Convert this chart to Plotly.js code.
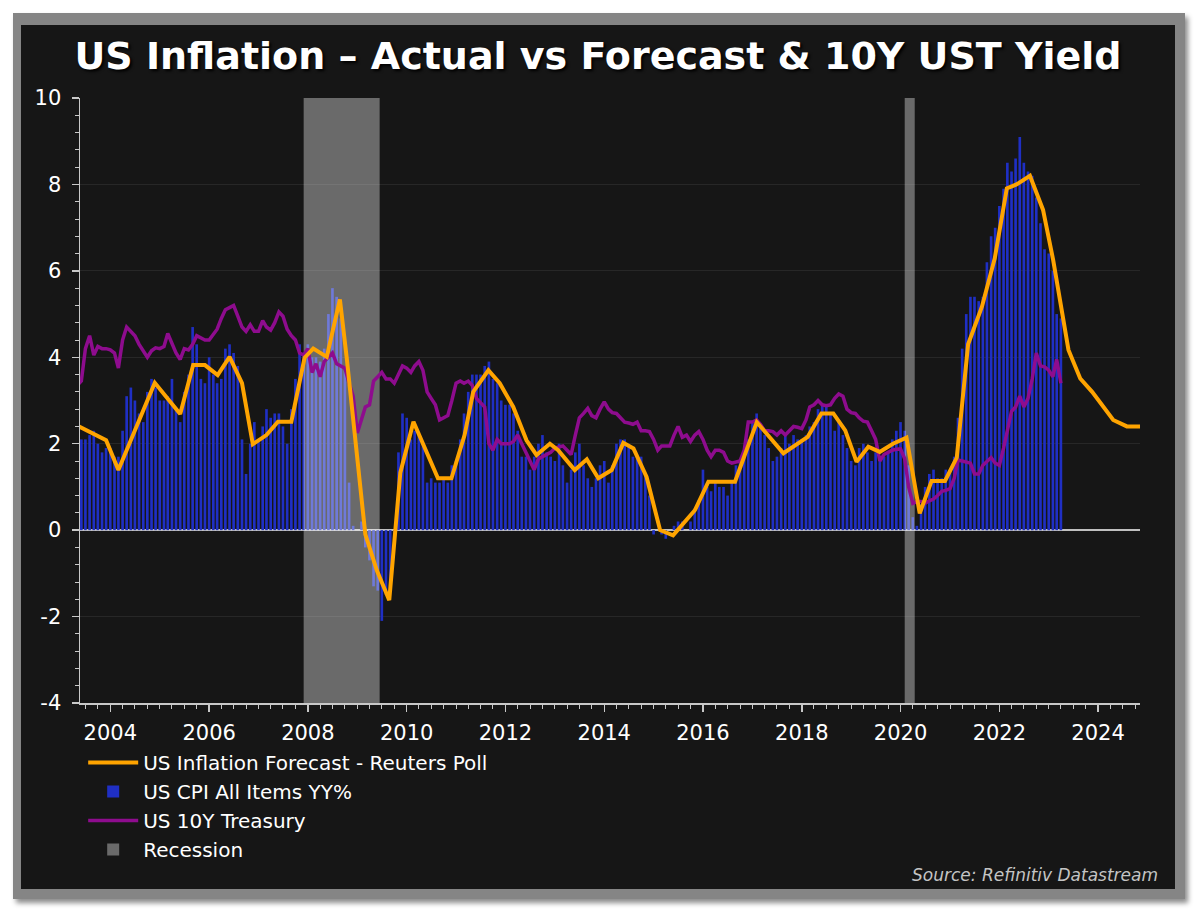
<!DOCTYPE html>
<html>
<head>
<meta charset="utf-8">
<script src="https://cdn.plot.ly/plotly-3.0.1.min.js"></script>
<style>
  html, body { margin: 0; padding: 0; background: #ffffff; width: 1200px; height: 914px; overflow: hidden; }
  #frame { position: absolute; left: 13px; top: 13px; width: 1172px; height: 886px; background: #858585;
           box-shadow: 3px 4px 5px rgba(0,0,0,0.45); }
  #chart { position: absolute; left: 21px; top: 25px; width: 1154px; height: 864px; }
</style>
</head>
<body>
<div id="frame"></div>
<div id="chart"></div>
<script>
// ---- DATA ----
// Monthly series start month (CPI and 10Y), May 2003 .. Apr 2023
const seriesStart = "2003-05";

// US CPI All Items YY% (monthly)
const cpi = [
  2.1, 2.1, 2.1, 2.2, 2.3, 2.0, 1.8, 1.9,
  1.9, 1.7, 1.7, 2.3, 3.1, 3.3, 3.0, 2.7, 2.5, 3.2, 3.5, 3.3,
  3.0, 3.0, 3.1, 3.5, 2.8, 2.5, 3.2, 3.6, 4.7, 4.3, 3.5, 3.4,
  4.0, 3.6, 3.4, 3.5, 4.2, 4.3, 4.1, 3.8, 2.1, 1.3, 2.0, 2.5,
  2.1, 2.4, 2.8, 2.6, 2.7, 2.7, 2.4, 2.0, 2.8, 3.5, 4.3, 4.1,
  4.3, 4.0, 4.0, 3.9, 4.2, 5.0, 5.6, 5.4, 4.9, 3.7, 1.1, 0.1,
  0.0, 0.2, -0.4, -0.7, -1.3, -1.4, -2.1, -1.5, -1.3, -0.2, 1.8, 2.7,
  2.6, 2.1, 2.3, 2.2, 2.0, 1.1, 1.2, 1.1, 1.1, 1.2, 1.1, 1.5,
  1.6, 2.1, 2.7, 3.2, 3.6, 3.6, 3.6, 3.8, 3.9, 3.5, 3.4, 3.0,
  2.9, 2.9, 2.7, 2.3, 1.7, 1.7, 1.4, 1.7, 2.0, 2.2, 1.8, 1.7,
  1.6, 2.0, 1.5, 1.1, 1.4, 1.8, 2.0, 1.5, 1.2, 1.0, 1.2, 1.5,
  1.6, 1.1, 1.5, 2.0, 2.1, 2.1, 2.0, 1.7, 1.7, 1.7, 1.3, 0.8,
  -0.1, 0.0, -0.1, -0.2, 0.0, 0.1, 0.2, 0.2, 0.0, 0.2, 0.5, 0.7,
  1.4, 1.0, 0.9, 1.1, 1.0, 1.0, 0.8, 1.1, 1.5, 1.6, 1.7, 2.1,
  2.5, 2.7, 2.4, 2.2, 1.9, 1.6, 1.7, 1.9, 2.2, 2.0, 2.2, 2.1,
  2.1, 2.2, 2.4, 2.5, 2.8, 2.9, 2.9, 2.7, 2.3, 2.5, 2.2, 1.9,
  1.6, 1.5, 1.9, 2.0, 1.8, 1.6, 1.8, 1.7, 1.7, 1.8, 2.1, 2.3,
  2.5, 2.3, 1.5, 0.3, 0.1, 0.6, 1.0, 1.3, 1.4, 1.2, 1.2, 1.4,
  1.4, 1.7, 2.6, 4.2, 5.0, 5.4, 5.4, 5.3, 5.4, 6.2, 6.8, 7.0,
  7.5, 7.9, 8.5, 8.3, 8.6, 9.1, 8.5, 8.3, 8.2, 7.7, 7.1, 6.5,
  6.4, 6.0, 5.0, 4.9
];

// US 10Y Treasury yield (monthly)
const ust10y = [
  3.35, 3.45, 4.2, 4.5, 4.05, 4.25, 4.2, 4.2,
  4.17, 4.1, 3.75, 4.4, 4.7, 4.6, 4.5, 4.3, 4.15, 4.0, 4.15, 4.22,
  4.2, 4.25, 4.55, 4.3, 4.1, 3.95, 4.2, 4.17, 4.3, 4.5, 4.45, 4.4,
  4.4, 4.55, 4.65, 4.9, 5.1, 5.15, 5.2, 4.95, 4.7, 4.6, 4.75, 4.6,
  4.6, 4.85, 4.7, 4.63, 4.8, 5.05, 4.95, 4.65, 4.5, 4.4, 4.1, 4.05,
  4.2, 3.65, 3.85, 3.55, 3.9, 4.0, 4.1, 3.85, 3.8, 3.75, 3.4, 3.1,
  2.25, 2.6, 2.85, 2.9, 3.45, 3.55, 3.65, 3.5, 3.5, 3.4, 3.6, 3.8,
  3.75, 3.65, 3.8, 3.9, 3.7, 3.2, 3.05, 2.9, 2.55, 2.6, 2.65, 3.0,
  3.4, 3.45, 3.4, 3.45, 3.35, 3.05, 2.95, 2.85, 2.0, 1.85, 2.1, 2.0,
  2.0, 2.0, 2.05, 2.2, 2.0, 1.8, 1.6, 1.4, 1.65, 1.7, 1.75, 1.8,
  1.9, 1.92, 1.95, 1.85, 1.75, 2.2, 2.6, 2.7, 2.82, 2.65, 2.6, 2.8,
  2.97, 2.8, 2.72, 2.7, 2.6, 2.5, 2.48, 2.45, 2.5, 2.3, 2.3, 2.28,
  2.1, 1.85, 1.95, 1.95, 1.95, 2.2, 2.4, 2.15, 2.2, 2.05, 2.2, 2.28,
  2.1, 1.85, 1.7, 1.85, 1.85, 1.8, 1.6, 1.55, 1.58, 1.6, 1.85, 2.5,
  2.5, 2.55, 2.45, 2.3, 2.3, 2.28, 2.2, 2.3, 2.2, 2.3, 2.4, 2.38,
  2.35, 2.55, 2.85, 2.9, 3.0, 2.9, 2.88, 2.9, 3.05, 3.15, 3.1, 2.8,
  2.72, 2.7, 2.6, 2.52, 2.5, 2.3, 2.1, 1.6, 1.75, 1.8, 1.85, 1.87,
  1.88, 1.65, 1.0, 0.62, 0.66, 0.66, 0.62, 0.68, 0.72, 0.8, 0.9, 0.92,
  0.96, 1.2, 1.62, 1.6, 1.58, 1.55, 1.3, 1.3, 1.5, 1.58, 1.68, 1.55,
  1.5, 1.9, 2.3, 2.75, 2.85, 3.1, 2.85, 3.05, 3.5, 4.1, 3.8, 3.78,
  3.7, 3.55, 3.95, 3.4
];

// US Inflation Forecast - Reuters Poll
const forecastDates = [
  "2003-05-01","2003-10-01","2003-12-01","2004-03-01","2004-11-25","2005-06-01","2005-09-05","2005-12-01",
  "2006-03-05","2006-06-01","2006-09-01","2006-11-20","2007-03-01","2007-05-25","2007-09-01","2007-12-08",
  "2008-02-10","2008-05-20","2008-08-25","2008-10-15","2009-03-01","2009-05-25","2009-08-25","2009-11-15",
  "2010-02-20","2010-08-20","2010-11-28","2011-03-05","2011-05-08","2011-08-28","2011-11-20","2012-02-28",
  "2012-06-05","2012-08-18","2012-11-25","2013-01-25","2013-05-28","2013-08-25","2013-11-18","2014-02-25",
  "2014-05-22","2014-08-05","2014-11-10","2015-02-18","2015-05-25","2015-11-02","2016-02-10","2016-08-25",
  "2017-02-02","2017-08-18","2018-02-14","2018-05-26","2018-08-22","2018-11-18","2019-02-10","2019-05-08",
  "2019-07-31","2019-11-06","2020-02-14","2020-05-22","2020-08-18","2020-11-25","2021-02-20","2021-05-15",
  "2021-08-25","2021-11-28","2022-02-25","2022-05-08","2022-08-15","2022-11-20","2023-02-03","2023-05-27",
  "2023-08-22","2023-11-18","2024-04-22","2024-08-01","2024-12-01"
];
const forecastValues = [
  2.42, 2.16, 2.08, 1.39, 3.41, 2.69, 3.82, 3.82,
  3.59, 4.01, 3.40, 1.99, 2.20, 2.51, 2.51, 3.99,
  4.20, 4.01, 5.34, 3.97, -0.10, -0.93, -1.62, 1.33,
  2.51, 1.20, 1.20, 2.20, 3.20, 3.70, 3.40, 2.85,
  2.08, 1.74, 2.00, 1.85, 1.39, 1.64, 1.20, 1.39,
  2.02, 1.89, 1.23, 0.00, -0.12, 0.46, 1.12, 1.12,
  2.50, 1.78, 2.16, 2.70, 2.70, 2.31, 1.58, 1.93,
  1.81, 2.00, 2.14, 0.39, 1.14, 1.14, 1.68, 4.30,
  5.17, 6.29, 7.91, 8.00, 8.20, 7.41, 6.25, 4.17,
  3.51, 3.20, 2.55, 2.40, 2.40
];

// Recession periods
const recessionStart = ["2007-12-01", "2020-02-01"];
const recessionEnd   = ["2009-06-15", "2020-04-15"];

// Y tick labels (plain hyphen minus as in the original)
const yTickVals = [-4, -2, 0, 2, 4, 6, 8, 10];
const yTickText = ["-4", "-2", "0", "2", "4", "6", "8", "10"];

// Labels
const titleText = "US Inflation – Actual vs Forecast & 10Y UST Yield";
const seriesNames = {
  forecast: "US Inflation Forecast - Reuters Poll",
  cpi: "US CPI All Items YY%",
  ust: "US 10Y Treasury",
  rec: "Recession"
};
const sourceText = "Source: Refinitiv Datastream";

// ---- BUILD ----
function monthSeq(start, n) {
  const [y0, m0] = start.split("-").map(Number);
  const out = [];
  for (let i = 0; i < n; i++) {
    const t = (m0 - 1) + i;
    const y = y0 + Math.floor(t / 12);
    const m = (t % 12) + 1;
    out.push(y + "-" + String(m).padStart(2, "0") + "-01");
  }
  return out;
}
const months = monthSeq(seriesStart, cpi.length);

const yMin = -4, yMax = 10;
const recMid = [], recWidth = [], recH = [], recBase = [];
for (let i = 0; i < recessionStart.length; i++) {
  const a = new Date(recessionStart[i] + "T00:00:00Z").getTime();
  const b = new Date(recessionEnd[i] + "T00:00:00Z").getTime();
  recMid.push(new Date((a + b) / 2).toISOString().slice(0, 19).replace("T", " "));
  recWidth.push(b - a);
  recH.push(yMax - yMin);
  recBase.push(yMin);
}

const FONT = "DejaVu Sans, Arial, sans-serif";
const AXC = "#c8c8c8";

const traces = [
  {
    type: "bar", x: months, y: cpi, name: seriesNames.cpi,
    marker: { color: "#1f2fc4", line: { width: 0 } },
    legendrank: 2, hoverinfo: "skip"
  },
  {
    type: "bar", x: recMid, y: recH, base: recBase, width: recWidth, name: seriesNames.rec,
    marker: { color: "rgba(255,255,255,0.36)", line: { width: 0 } },
    legendrank: 4, hoverinfo: "skip"
  },
  {
    type: "scatter", mode: "lines", x: months, y: ust10y, name: seriesNames.ust,
    line: { color: "#8e0c8e", width: 3.5 },
    legendrank: 3, hoverinfo: "skip"
  },
  {
    type: "scatter", mode: "lines", x: forecastDates, y: forecastValues, name: seriesNames.forecast,
    line: { color: "#ffa400", width: 4 },
    legendrank: 1, hoverinfo: "skip"
  }
];

const layout = {
  width: 1154, height: 864,
  paper_bgcolor: "#161616", plot_bgcolor: "#161616",
  margin: { l: 59, r: 35, t: 73, b: 186 },
  barmode: "overlay", bargap: 0.3,
  showlegend: true,
  title: {
    text: titleText, xref: "container", x: 0.5, xanchor: "center",
    yref: "container", y: 0.965, yanchor: "middle",
    font: { family: FONT, size: 38, color: "#ffffff", weight: "bold", shadow: "2px 2px 3px #000" }
  },
  xaxis: {
    type: "date", range: ["2003-05-22", "2024-11-06"],
    tickformat: "%Y", dtick: "M24", tick0: "2004-01-01",
    ticks: "outside", ticklen: 7, tickwidth: 1.5, tickcolor: AXC,
    showline: true, linecolor: AXC, linewidth: 1.5,
    showgrid: false, zeroline: false,
    tickfont: { family: FONT, size: 21, color: "#ffffff" },
    ticklabelstandoff: 3,
    minor: { dtick: "M3", ticks: "outside", ticklen: 4, tickwidth: 1, tickcolor: AXC, showgrid: false }
  },
  yaxis: {
    range: [yMin, yMax], tickmode: "array", tickvals: yTickVals, ticktext: yTickText,
    ticks: "outside", ticklen: 7, tickwidth: 1.5, tickcolor: AXC,
    showline: true, linecolor: AXC, linewidth: 1.5,
    showgrid: true, gridcolor: "#272727", gridwidth: 1,
    zeroline: true, zerolinecolor: "#c0c0c0", zerolinewidth: 2,
    tickfont: { family: FONT, size: 21, color: "#ffffff" },
    ticklabelstandoff: 6,
    minor: { dtick: 0.4, tick0: 0, ticks: "outside", ticklen: 4, tickwidth: 1, tickcolor: AXC, showgrid: false }
  },
  legend: {
    x: 0.003, xanchor: "left", y: -0.066, yanchor: "top",
    orientation: "v", bgcolor: "rgba(0,0,0,0)",
    itemwidth: 50,
    font: { family: FONT, size: 20, color: "#ffffff" },
    traceorder: "normal"
  },
  annotations: [
    {
      text: sourceText, xref: "paper", yref: "paper", x: 1.0189, y: -0.284,
      xanchor: "right", yanchor: "middle", showarrow: false,
      font: { family: FONT, size: 17, color: "#c4c4c4", style: "italic" }
    }
  ]
};

Plotly.newPlot("chart", traces, layout, { staticPlot: true, displayModeBar: false });
</script>
</body>
</html>
